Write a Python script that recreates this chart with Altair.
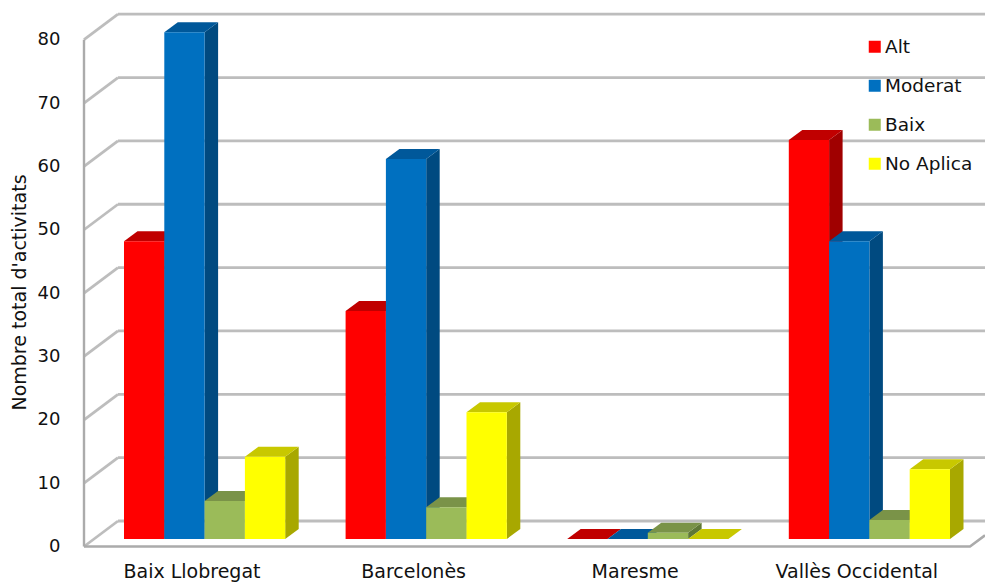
import altair as alt
import pandas as pd

categories = ["Baix Llobregat", "Barcelonès", "Maresme", "Vallès Occidental"]
series = ["Alt", "Moderat", "Baix", "No Aplica"]
values = {
    "Alt": [47, 36, 0, 63],
    "Moderat": [80, 60, 0, 47],
    "Baix": [6, 5, 1, 3],
    "No Aplica": [13, 20, 0, 11],
}
front_colors = ["#FF0000", "#0070C0", "#9BBB59", "#FFFF00"]
top_colors = ["#C00000", "#00589A", "#7A9348", "#C8C800"]
side_colors = ["#A00000", "#004A80", "#5F7836", "#A8A800"]
ticks = [0, 10, 20, 30, 40, 50, 60, 70, 80]

PX_X = 221.6
PX_Y = 6.335
W, H = 901, 538.5
X_MAX = W / PX_X
Y_MAX = H / PX_Y
BAR_W = 40.3 / PX_X
BAR_START = 40 / PX_X
DEPTH_X = 13.5 / PX_X
DEPTH_Y = 10 / PX_Y
BASE = 7.5 / PX_Y
WALL_X = 34 / PX_X
WALL_Y = 25.5 / PX_Y
FLOOR_END = 886 / PX_X
FONT = "DejaVu Sans"

xs = alt.Scale(domain=[0, X_MAX], nice=False, zero=False)
ys = alt.Scale(domain=[0, Y_MAX], nice=False, zero=False)
y_axis = alt.Axis(
    values=ticks, grid=False, domain=False, ticks=False, labelPadding=24, labelFontSize=18, labelFont=FONT,
    labelColor="#111111", title="Nombre total d'activitats", titleFont=FONT, titleFontSize=19,
    titleFontWeight="normal", titleColor="#111111", titleX=-65, titleY=284, titleAngle=-90,
    titleBaseline="middle", titleAlign="center")
X = lambda f: alt.X(f, type="quantitative", scale=xs, axis=None)
Y = lambda f: alt.Y(f, type="quantitative", scale=ys, axis=y_axis)

# walls
rows = []
for v in ticks:
    rows += [dict(id=f"d{v}", u=0, y=v), dict(id=f"d{v}", u=WALL_X, y=v + WALL_Y),
             dict(id=f"b{v}", u=WALL_X, y=v + WALL_Y), dict(id=f"b{v}", u=X_MAX, y=v + WALL_Y)]
end_y = (X_MAX - FLOOR_END) * PX_X * (WALL_Y / (WALL_X * PX_X))
floor = pd.DataFrame([dict(id="f", u=0, y=0), dict(id="f", u=FLOOR_END, y=0), dict(id="f", u=X_MAX, y=end_y)])
wall_df = pd.DataFrame(rows)
walls = alt.Chart(wall_df).mark_line(color="#BDBDBD", strokeWidth=2.8).encode(x=X("u"), y=Y("y"), detail="id:N")
floor_l = alt.Chart(floor).mark_line(color="#ABABAB", strokeWidth=2.6).encode(x=X("u"), y=Y("y"), detail="id:N")
axis_df = pd.DataFrame({"u": [0], "a": [0], "b": [80]})
left = alt.Chart(axis_df).mark_rule(color="#ABABAB", strokeWidth=2.4).encode(x=X("u"), y=Y("a"), y2="b:Q")

layers = [walls, floor_l, left]

color = alt.Color("serie:N", scale=alt.Scale(domain=series, range=front_colors), legend=alt.Legend(
    title=None, orient="none", legendX=781.5, legendY=29.5, symbolType="square", symbolSize=144, symbolStrokeWidth=0,
    labelFont=FONT, labelFontSize=18.5, labelColor="#111111", rowPadding=20, labelOffset=1, symbolOpacity=1))

for j, s in enumerate(series):
    fr, sd, tp = [], [], []
    for i, v in enumerate(values[s]):
        l = i + BAR_START + j * BAR_W
        r = l + BAR_W
        lo, hi = BASE, BASE + v
        fr.append(dict(serie=s, l=l, r=r, lo=lo, hi=hi))
        sd += [dict(id=i, u=r, a=lo, b=hi), dict(id=i, u=r + DEPTH_X, a=lo + DEPTH_Y, b=hi + DEPTH_Y)]
        tp += [dict(id=i, u=l, a=hi, b=hi), dict(id=i, u=l + DEPTH_X, a=hi, b=hi + DEPTH_Y),
               dict(id=i, u=r, a=hi, b=hi + DEPTH_Y), dict(id=i, u=r + DEPTH_X, a=hi + DEPTH_Y, b=hi + DEPTH_Y)]
    layers.append(alt.Chart(pd.DataFrame(sd)).mark_area(color=side_colors[j], line=False).encode(
        x=X("u"), y=Y("a"), y2="b:Q", detail="id:N"))
    layers.append(alt.Chart(pd.DataFrame(tp)).mark_area(color=top_colors[j], line=False).encode(
        x=X("u"), y=Y("a"), y2="b:Q", detail="id:N"))
    layers.append(alt.Chart(pd.DataFrame(fr)).mark_rect().encode(
        x=X("l"), x2="r:Q", y=Y("lo"), y2="hi:Q", color=color))

label_df = pd.DataFrame({"cat": categories, "u": [i + 108 / PX_X for i in range(len(categories))]})
labels = alt.Chart(label_df).mark_text(font=FONT, fontSize=19, color="#111111", baseline="middle").encode(
    x=X("u"), y=alt.value(564), text="cat:N")
layers.append(labels)

chart = alt.layer(*layers).properties(
    width=W, height=H, autosize=alt.AutoSizeParams(type="none"),
    padding={"left": 76, "top": 0, "right": 0, "bottom": 35},
).configure_view(stroke=None)

chart.save("out.html", embed_options={"renderer": "svg", "actions": False})
